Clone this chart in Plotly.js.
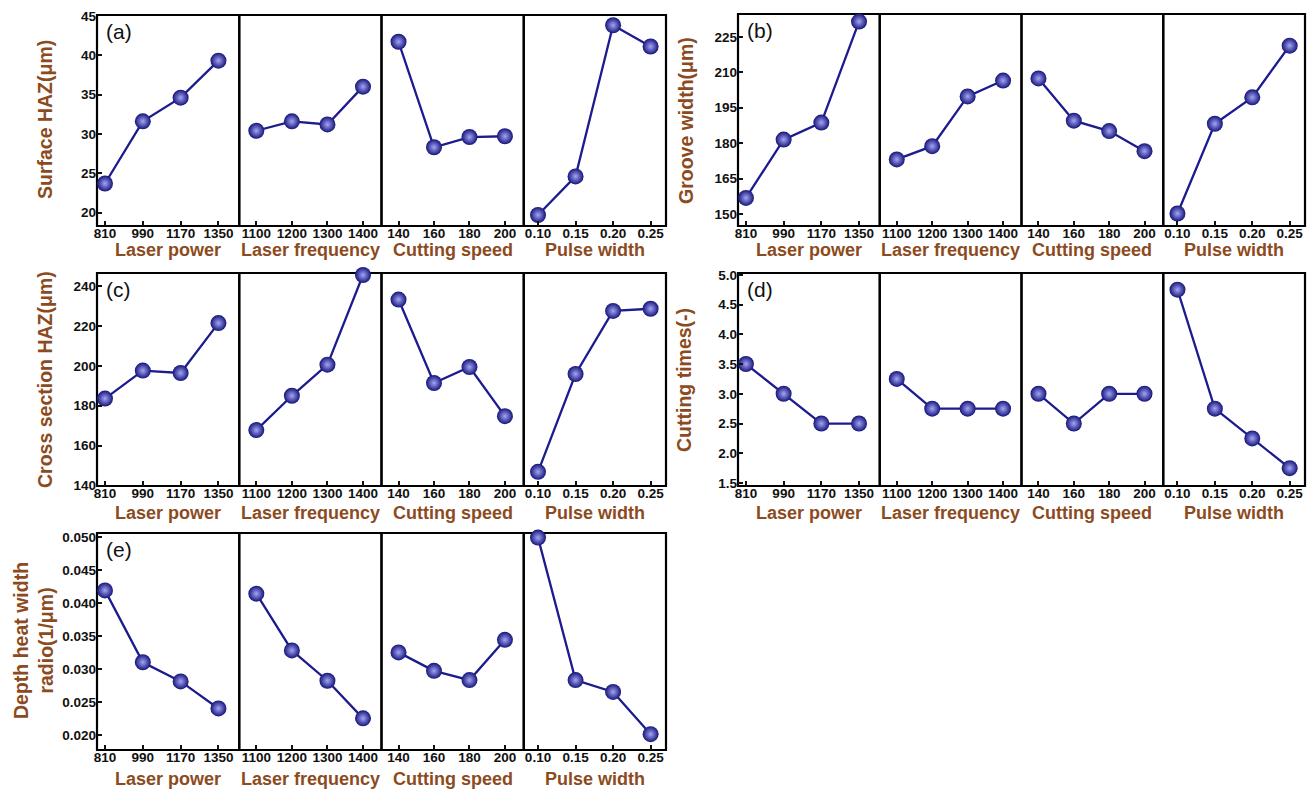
<!DOCTYPE html>
<html><head><meta charset="utf-8">
<script src="https://cdn.plot.ly/plotly-3.0.1.min.js"></script>
<style>html,body{margin:0;padding:0;background:#fff}#chart{width:1314px;height:792px}</style>
</head><body><div id="chart"></div>
<script>
// ---------- factors / tick labels ----------
const factorNames = ['Laser power', 'Laser frequency', 'Cutting speed', 'Pulse width'];
const laserPower = [810, 990, 1170, 1350];
const laserFrequency = [1100, 1200, 1300, 1400];
const cuttingSpeed = [140, 160, 180, 200];
const pulseWidth = [0.10, 0.15, 0.20, 0.25];
const laserPowerLabels = ['810', '990', '1170', '1350'];
const laserFrequencyLabels = ['1100', '1200', '1300', '1400'];
const cuttingSpeedLabels = ['140', '160', '180', '200'];
const pulseWidthLabels = ['0.10', '0.15', '0.20', '0.25'];

// ---------- (a) Surface HAZ (μm) ----------
const surfaceHAZ_power = [23.7, 31.6, 34.6, 39.3];
const surfaceHAZ_frequency = [30.4, 31.6, 31.2, 36.0];
const surfaceHAZ_speed = [41.7, 28.3, 29.6, 29.7];
const surfaceHAZ_pulse = [19.7, 24.6, 43.8, 41.1];
const surfaceHAZTicks = [20, 25, 30, 35, 40, 45];

// ---------- (b) Groove width (μm) ----------
const grooveWidth_power = [156.8, 181.5, 188.7, 231.5];
const grooveWidth_frequency = [173.1, 178.7, 199.8, 206.5];
const grooveWidth_speed = [207.4, 189.5, 185.1, 176.6];
const grooveWidth_pulse = [150.2, 188.2, 199.4, 221.3];
const grooveWidthTicks = [150, 165, 180, 195, 210, 225];

// ---------- (c) Cross section HAZ (μm) ----------
const crossHAZ_power = [183.6, 197.6, 196.4, 221.4];
const crossHAZ_frequency = [167.8, 185.0, 200.6, 245.5];
const crossHAZ_speed = [233.2, 191.4, 199.4, 174.8];
const crossHAZ_pulse = [146.9, 195.9, 227.5, 228.6];
const crossHAZTicks = [140, 160, 180, 200, 220, 240];

// ---------- (d) Cutting times (-) ----------
const cuttingTimes_power = [3.5, 3.0, 2.5, 2.5];
const cuttingTimes_frequency = [3.25, 2.75, 2.75, 2.75];
const cuttingTimes_speed = [3.0, 2.5, 3.0, 3.0];
const cuttingTimes_pulse = [4.75, 2.75, 2.25, 1.75];
const cuttingTimesTicks = [1.5, 2.0, 2.5, 3.0, 3.5, 4.0, 4.5, 5.0];

// ---------- (e) Depth heat width radio (1/μm) ----------
const depthRatio_power = [0.0419, 0.0310, 0.0281, 0.0240];
const depthRatio_frequency = [0.0414, 0.0328, 0.0282, 0.0225];
const depthRatio_speed = [0.0325, 0.0297, 0.0283, 0.0344];
const depthRatio_pulse = [0.0499, 0.0283, 0.0265, 0.0201];
const depthRatioTicks = [0.020, 0.025, 0.030, 0.035, 0.040, 0.045, 0.050];

// ---------- assembly ----------
const factorX = [laserPower, laserFrequency, cuttingSpeed, pulseWidth];
const factorLabels = [laserPowerLabels, laserFrequencyLabels, cuttingSpeedLabels, pulseWidthLabels];

const panels = [
  {tag: '(a)', title: 'Surface HAZ(μm)', series: [surfaceHAZ_power, surfaceHAZ_frequency, surfaceHAZ_speed, surfaceHAZ_pulse], ticks: surfaceHAZTicks, fmt: v => String(v)},
  {tag: '(b)', title: 'Groove width(μm)', series: [grooveWidth_power, grooveWidth_frequency, grooveWidth_speed, grooveWidth_pulse], ticks: grooveWidthTicks, fmt: v => String(v)},
  {tag: '(c)', title: 'Cross section HAZ(μm)', series: [crossHAZ_power, crossHAZ_frequency, crossHAZ_speed, crossHAZ_pulse], ticks: crossHAZTicks, fmt: v => String(v)},
  {tag: '(d)', title: 'Cutting times(-)', series: [cuttingTimes_power, cuttingTimes_frequency, cuttingTimes_speed, cuttingTimes_pulse], ticks: cuttingTimesTicks, fmt: v => v.toFixed(1)},
  {tag: '(e)', title: 'Depth heat width<br>radio(1/μm)', series: [depthRatio_power, depthRatio_frequency, depthRatio_speed, depthRatio_pulse], ticks: depthRatioTicks, fmt: v => v.toFixed(3)}
];

// layout geometry (pixels)
const W = 1314, H = 792;
const boxes = [
  {l: 97, r: 666, t: 15, b: 226, yr: [18.3, 45.1], ytitleX: 45, ytitleY: 120, xtitleY: 250},
  {l: 738, r: 1305, t: 14, b: 226, yr: [144.9, 234.7], ytitleX: 686, ytitleY: 121, xtitleY: 250},
  {l: 97, r: 666, t: 273, b: 486, yr: [139.8, 246.5], ytitleX: 45, ytitleY: 380, xtitleY: 513},
  {l: 738, r: 1305, t: 273, b: 486, yr: [1.45, 5.03], ytitleX: 684, ytitleY: 380, xtitleY: 513},
  {l: 97, r: 666, t: 533, b: 750, yr: [0.0177, 0.0506], ytitleX: 33, ytitleY: 641, xtitleY: 779}
];
const xRanges = [[772, 1449], [1052, 1452], [130.4, 210.6], [0.081, 0.2705]];

const brown = '#8c4b1e';
const navy = '#1c1c8e';
const tickFont = {family: 'Liberation Sans, Arial, sans-serif', size: 13.5, weight: 'bold', color: '#111'};
const titleFont = {family: 'Liberation Sans, Arial, sans-serif', size: 18, weight: 'bold', color: brown};

const traces = [];
const layout = {
  width: W, height: H,
  margin: {l: 0, r: 0, t: 0, b: 0, pad: 0},
  paper_bgcolor: '#fff', plot_bgcolor: 'rgba(0,0,0,0)',
  showlegend: false,
  shapes: [], annotations: []
};

panels.forEach((p, pi) => {
  const bx = boxes[pi];
  const yName = 'y' + (pi + 1);
  const yKey = 'yaxis' + (pi === 0 ? '' : (pi + 1));
  const sw = (bx.r - bx.l) / 4;
  const firstX = 'x' + (pi * 4 + 1);
  layout[yKey] = {
    domain: [1 - bx.b / H, 1 - bx.t / H],
    anchor: firstX,
    range: bx.yr,
    tickmode: 'array', tickvals: p.ticks, ticktext: p.ticks.map(p.fmt),
    ticks: 'inside', ticklen: 5, tickwidth: 2, tickcolor: '#111',
    showgrid: false, zeroline: false, showline: false,
    tickfont: tickFont, fixedrange: true
  };
  p.series.forEach((vals, si) => {
    const n = pi * 4 + si + 1;
    const xName = 'x' + n;
    const xKey = 'xaxis' + (n === 1 ? '' : n);
    const x0 = bx.l + si * sw, x1 = bx.l + (si + 1) * sw;
    layout[xKey] = {
      domain: [x0 / W, x1 / W],
      anchor: yName,
      range: xRanges[si],
      tickmode: 'array', tickvals: factorX[si], ticktext: factorLabels[si],
      ticks: 'inside', ticklen: 5, tickwidth: 2, tickcolor: '#111',
      tickangle: 0, ticklabelstandoff: -3,
      showgrid: false, zeroline: false, showline: false,
      tickfont: tickFont, fixedrange: true
    };
    traces.push({
      type: 'scatter', mode: 'lines+markers',
      x: factorX[si], y: vals,
      xaxis: xName, yaxis: yName,
      cliponaxis: false,
      line: {color: navy, width: 2.3},
      marker: {size: 16, color: '#15157a', gradient: {type: 'radial', color: '#a4a4f6'}, line: {width: 0}},
      hoverinfo: 'x+y'
    });
    layout.shapes.push({
      type: 'rect', xref: xName + ' domain', yref: yName + ' domain',
      x0: 0, x1: 1, y0: 0, y1: 1,
      line: {color: '#000', width: 2.2}, layer: 'below'
    });
    layout.annotations.push({
      xref: 'paper', yref: 'paper',
      x: ((x0 + x1) / 2) / W, y: 1 - bx.xtitleY / H,
      xanchor: 'center', yanchor: 'middle',
      text: factorNames[si], showarrow: false, font: titleFont
    });
  });
  // panel tag
  layout.annotations.push({
    xref: firstX + ' domain', yref: yName + ' domain',
    x: 0.05, y: 0.985, xanchor: 'left', yanchor: 'top',
    text: p.tag, showarrow: false,
    font: {family: 'Liberation Sans, Arial, sans-serif', size: 21, color: '#111'}
  });
  // y title
  layout.annotations.push({
    xref: 'paper', yref: 'paper',
    x: bx.ytitleX / W, y: 1 - bx.ytitleY / H,
    xanchor: 'center', yanchor: 'middle', textangle: -90,
    text: p.title, showarrow: false,
    font: {family: 'Liberation Sans, Arial, sans-serif', size: 19.5, weight: 'bold', color: brown}
  });
});

Plotly.newPlot('chart', traces, layout, {displayModeBar: false, responsive: false});
</script>
</body></html>
